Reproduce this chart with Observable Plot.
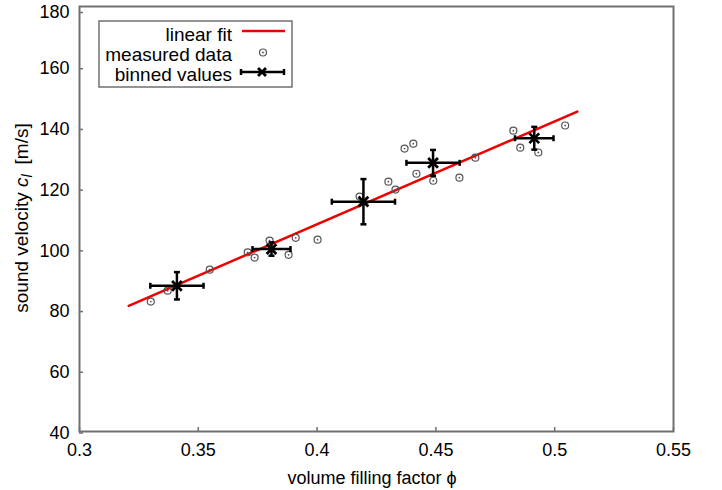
<!DOCTYPE html>
<html>
<head>
<meta charset="utf-8">
<script src="https://cdn.jsdelivr.net/npm/d3@7"></script>
<script src="https://cdn.jsdelivr.net/npm/@observablehq/plot@0.6"></script>
<style>
  html, body { margin: 0; padding: 0; background: #fff; }
  svg { display: block; }
</style>
</head>
<body>
<div id="chart"></div>
<script>
// ---- data ----
const phiMeasured = [0.3300, 0.3371, 0.3548, 0.3708, 0.3737, 0.3800, 0.3880, 0.3910, 0.4002, 0.4179, 0.4300,
                     0.4330, 0.4368, 0.4405, 0.4418, 0.4489, 0.4599, 0.4666, 0.4826, 0.4855, 0.4931, 0.5044];
const vMeasured   = [82.8, 86.4, 93.3, 99.0, 97.3, 102.9, 98.2, 103.8, 103.2, 117.4, 122.3,
                     119.7, 133.2, 134.8, 124.9, 122.6, 123.6, 130.2, 139.1, 133.5, 131.9, 140.8];

const phiBinned = [0.3410, 0.3808, 0.4195, 0.4488, 0.4914];
const vBinned   = [88.0, 100.1, 115.7, 128.5, 136.6];
const phiErr    = [0.0112, 0.0080, 0.0133, 0.0112, 0.0081];
const vErr      = [4.5, 2.2, 7.45, 4.25, 3.75];

const fitPhi = [0.3207, 0.5095];
const fitV   = [81.4, 145.4];

const xTicks = [0.3, 0.35, 0.4, 0.45, 0.5, 0.55];
const yTicks = [40, 60, 80, 100, 120, 140, 160];
const yTopTick = [180];

const legendLabels = ["linear fit", "measured data", "binned values"];

// ---- tables built from the arrays ----
const measured = phiMeasured.map((p, i) => ({phi: p, v: vMeasured[i]}));
const binned = phiBinned.map((p, i) => ({
  phi: p, v: vBinned[i],
  x1: p - phiErr[i], x2: p + phiErr[i],
  y1: vBinned[i] - vErr[i], y2: vBinned[i] + vErr[i]
}));
const fit = fitPhi.map((p, i) => ({phi: p, v: fitV[i]}));

// custom cap symbols
const vbar = {draw(ctx, size) { const r = Math.sqrt(size / Math.PI); ctx.moveTo(0, -r); ctx.lineTo(0, r); }};
const hbar = {draw(ctx, size) { const r = Math.sqrt(size / Math.PI); ctx.moveTo(-r, 0); ctx.lineTo(r, 0); }};

const FONT = "Liberation Sans, Arial, sans-serif";
const frameColor = "#707070";

const chart = Plot.plot({
  width: 722,
  height: 490,
  marginLeft: 79,
  marginRight: 49,
  marginTop: 6,
  marginBottom: 59,
  style: {fontFamily: FONT, fontSize: "18px", color: "#000", background: "#fff"},
  x: {domain: [0.3, 0.55]},
  y: {domain: [40, 180]},
  marks: [
    Plot.axisX({ticks: xTicks, tickSize: -4, tickPadding: 16, tickFormat: d => String(d), label: null, stroke: frameColor, strokeWidth: 1.5, fill: "#000"}),
    Plot.axisY({ticks: yTicks, tickSize: -4, tickPadding: 14, dy: 1.5, tickFormat: d => String(d), label: null, stroke: frameColor, strokeWidth: 1.5, fill: "#000"}),
    Plot.axisY({ticks: yTopTick, tickSize: -4, tickPadding: 14, dy: 6, tickFormat: d => String(d), label: null, stroke: frameColor, strokeWidth: 1.5, fill: "#000"}),
    Plot.frame({stroke: frameColor, strokeWidth: 2}),
    Plot.line(fit, {x: "phi", y: "v", stroke: "#ee0000", strokeWidth: 2.5}),
    Plot.dot(measured, {x: "phi", y: "v", r: 3.5, stroke: "#555", strokeWidth: 1.2, fill: "none"}),
    Plot.dot(measured, {x: "phi", y: "v", r: 0.9, fill: "#555", stroke: "none"}),
    Plot.ruleY(binned, {y: "v", x1: "x1", x2: "x2", stroke: "#000", strokeWidth: 2.5}),
    Plot.ruleX(binned, {x: "phi", y1: "y1", y2: "y2", stroke: "#000", strokeWidth: 2.5}),
    Plot.dot(binned, {x: "x1", y: "v", symbol: vbar, r: 3, stroke: "#000", strokeWidth: 2.5}),
    Plot.dot(binned, {x: "x2", y: "v", symbol: vbar, r: 3, stroke: "#000", strokeWidth: 2.5}),
    Plot.dot(binned, {x: "phi", y: "y1", symbol: hbar, r: 3, stroke: "#000", strokeWidth: 2.5}),
    Plot.dot(binned, {x: "phi", y: "y2", symbol: hbar, r: 3, stroke: "#000", strokeWidth: 2.5}),
    Plot.dot(binned, {x: "phi", y: "v", symbol: "times", r: 4.5, stroke: "#000", strokeWidth: 2.8})
  ]
});

document.getElementById("chart").appendChild(chart);

// ---- axis titles and legend ----
const svg = d3.select(chart);

svg.append("text")
  .attr("x", 372).attr("y", 484)
  .attr("text-anchor", "middle")
  .style("font-family", FONT).style("font-size", "18px").attr("fill", "#000")
  .text("volume filling factor \u03D5");

const yt = svg.append("text")
  .attr("transform", "translate(28,218) rotate(-90)")
  .attr("text-anchor", "middle")
  .style("font-family", FONT).style("font-size", "19px").attr("fill", "#000");
yt.append("tspan").text("sound velocity ");
yt.append("tspan").style("font-style", "italic").text("c");
yt.append("tspan").style("font-style", "italic").style("font-size", "14px").attr("dy", 4).text("l");
yt.append("tspan").attr("dy", -4).attr("dx", 10).text("[m/s]");

const lg = svg.append("g").style("font-family", FONT).style("font-size", "19px");
lg.append("rect").attr("x", 99).attr("y", 21).attr("width", 193).attr("height", 66)
  .attr("fill", "#fff").attr("stroke", frameColor).attr("stroke-width", 1.5);
const rowsY = [35, 55, 75];
legendLabels.forEach((t, i) => {
  lg.append("text").attr("x", 232).attr("y", rowsY[i] + 6).attr("text-anchor", "end").attr("fill", "#000").text(t);
});
// sample: linear fit
lg.append("line").attr("x1", 242).attr("x2", 285).attr("y1", 31).attr("y2", 31).attr("stroke", "#ee0000").attr("stroke-width", 2.5);
// sample: measured data
lg.append("circle").attr("cx", 263).attr("cy", 52.5).attr("r", 3.5).attr("fill", "none").attr("stroke", "#555").attr("stroke-width", 1.2);
lg.append("circle").attr("cx", 263).attr("cy", 52.5).attr("r", 0.9).attr("fill", "#555");
// sample: binned values
const by = 72;
lg.append("line").attr("x1", 241).attr("x2", 284).attr("y1", by).attr("y2", by).attr("stroke", "#000").attr("stroke-width", 2.5);
lg.append("line").attr("x1", 241).attr("x2", 241).attr("y1", by - 3).attr("y2", by + 3).attr("stroke", "#000").attr("stroke-width", 2.5);
lg.append("line").attr("x1", 284).attr("x2", 284).attr("y1", by - 3).attr("y2", by + 3).attr("stroke", "#000").attr("stroke-width", 2.5);
lg.append("path").attr("d", `M${262-4},${by-4}L${262+4},${by+4}M${262-4},${by+4}L${262+4},${by-4}`).attr("stroke", "#000").attr("stroke-width", 2.8);
</script>
</body>
</html>
